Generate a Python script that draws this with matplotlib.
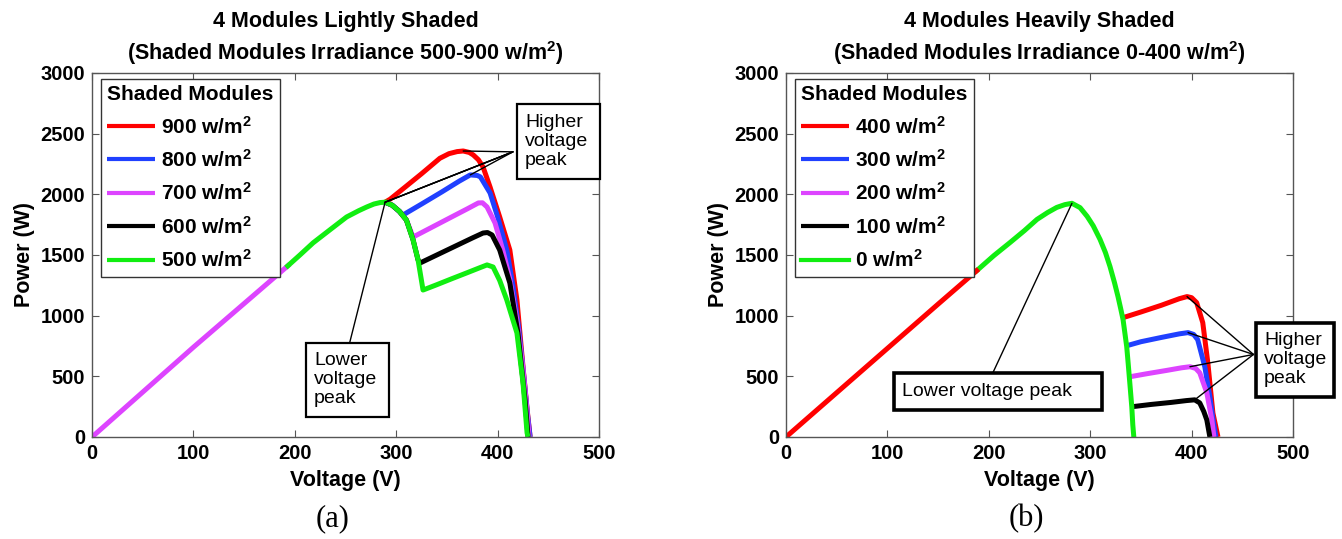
import matplotlib
matplotlib.use("Agg")

import numpy as np
import matplotlib.pyplot as plt
from matplotlib.patches import Rectangle

plt.rcParams["font.family"] = ["Liberation Sans", "DejaVu Sans"]
plt.rcParams["mathtext.default"] = "regular"

# ================= DATA =================
# (a) 4 modules lightly shaded -- common part of all five P-V curves
LS_RISE_V = [0, 50, 100, 150, 193]
LS_RISE_P = [0, 370, 740, 1100, 1410]
LS_KNEE_V = [193, 205, 218, 235, 251, 263, 271, 278, 284, 289]
LS_KNEE_P = [1410, 1500, 1600, 1710, 1813, 1865, 1896, 1920, 1932, 1935]

# (a) branches after the first (lower voltage) peak
LS_900_V = [289, 294, 310, 325, 343, 352, 360, 366, 372, 376, 381, 385.6, 392.5, 402, 412, 419, 425, 429, 432]
LS_900_P = [1935, 1960, 2068, 2170, 2297, 2335, 2352, 2357, 2345, 2324, 2285, 2225, 2060, 1813, 1541, 1129, 577, 230, 0]
LS_800_V = [289, 296, 303, 306.7, 325, 345, 362, 373, 380, 383, 392.5, 400, 409, 415, 421, 426, 429.5, 432]
LS_800_P = [1935, 1910, 1860, 1830, 1920, 2020, 2108, 2160, 2155, 2143, 2011, 1813, 1541, 1250, 880, 480, 180, 0]
LS_700_V = [289, 296, 303, 310, 316.6, 335, 355, 370, 381, 385, 389.5, 397.4, 405, 412, 419, 425, 428.5, 431]
LS_700_P = [1935, 1910, 1860, 1788, 1648, 1728, 1815, 1880, 1929, 1930, 1896, 1764, 1541, 1300, 960, 560, 250, 0]
LS_600_V = [289, 296, 303, 310, 316.6, 321.5, 323.5, 340, 360, 375, 385.6, 390, 394.5, 402, 412, 420, 427, 430]
LS_600_P = [1935, 1910, 1860, 1788, 1624, 1459, 1434, 1500, 1580, 1640, 1681, 1685, 1665, 1541, 1269, 857, 305, 0]
LS_500_V = [289, 296, 303, 310, 316.6, 321.5, 326.4, 340, 355, 370, 383, 389.5, 395.5, 402, 409, 419, 425, 429, 430]
LS_500_P = [1935, 1910, 1860, 1788, 1624, 1459, 1211, 1255, 1305, 1354, 1397, 1418, 1401, 1290, 1129, 857, 445, 33, 0]

LS_V = [LS_900_V, LS_800_V, LS_700_V, LS_600_V, LS_500_V]
LS_P = [LS_900_P, LS_800_P, LS_700_P, LS_600_P, LS_500_P]
LS_LABELS = ["900 w/m$^2$", "800 w/m$^2$", "700 w/m$^2$", "600 w/m$^2$", "500 w/m$^2$"]

# (b) 4 modules heavily shaded -- common part (0 w/m2 curve is the common one)
HS_RISE_V = [0, 50, 100, 150, 188]
HS_RISE_P = [0, 365, 730, 1095, 1370]
HS_0_V = [188, 205, 221, 235, 247.5, 258, 267, 275, 282, 290, 297, 303, 309.7, 315, 319.5,
          324, 327.4, 330, 332.4, 334, 336, 337.5, 339.5, 341, 342, 343]
HS_0_P = [1370, 1495, 1603, 1700, 1793, 1850, 1892, 1915, 1926, 1890, 1818, 1740, 1628, 1520, 1405,
          1270, 1157, 1060, 967, 868, 744, 600, 400, 248, 100, 0]

# (b) branches after the first (lower voltage) peak
HS_400_V = [333, 350, 370, 388, 395.5, 400, 405, 411, 416, 421, 426]
HS_400_P = [985, 1030, 1085, 1140, 1157, 1148, 1107, 942, 611, 198, 0]
HS_300_V = [336, 350, 370, 388, 396.5, 402, 406, 413, 418, 421, 424]
HS_300_P = [752, 785, 820, 850, 860, 845, 802, 579, 331, 150, 0]
HS_200_V = [339, 355, 375, 390, 398.4, 404, 408, 415, 420, 422]
HS_200_P = [496, 520, 548, 570, 579, 565, 529, 364, 140, 0]
HS_100_V = [342, 360, 380, 395, 403, 408, 412, 415, 418]
HS_100_P = [250, 268, 285, 300, 306, 281, 210, 140, 0]

HS_V = [HS_400_V, HS_300_V, HS_200_V, HS_100_V]
HS_P = [HS_400_P, HS_300_P, HS_200_P, HS_100_P]
HS_LABELS = ["400 w/m$^2$", "300 w/m$^2$", "200 w/m$^2$", "100 w/m$^2$", "0 w/m$^2$"]

COLORS = ["#ff0000", "#2040ff", "#dd44ff", "#000000", "#11ee11"]
# =========================================

LW = 3.6
TICK_FS = 14.5
LEG_FS = 15
BOX_FS = 14


def style_axes(ax, title):
    ax.set_xlim(0, 500)
    ax.set_ylim(0, 3000)
    ax.set_xticks(range(0, 501, 100))
    ax.set_yticks(range(0, 3001, 500))
    ax.tick_params(direction="in", top=True, right=True, length=5, width=0.8,
                   color="#555555", labelsize=TICK_FS, pad=5)
    for lab in ax.get_xticklabels() + ax.get_yticklabels():
        lab.set_fontweight("bold")
    for sp in ax.spines.values():
        sp.set_color("#555555")
        sp.set_linewidth(1.0)
    ax.set_xlabel("Voltage (V)", fontsize=15.5, fontweight="bold", labelpad=5)
    ax.set_ylabel("Power (W)", fontsize=15.5, fontweight="bold", labelpad=4)
    ax.set_title(title, fontsize=15.5, fontweight="bold", linespacing=1.35, pad=9)


def add_legend(ax):
    leg = ax.legend(loc="upper left", bbox_to_anchor=(0.018, 0.984), borderaxespad=0,
                    title="Shaded Modules", alignment="left",
                    prop={"weight": "bold", "size": LEG_FS},
                    title_fontproperties={"weight": "bold", "size": LEG_FS},
                    fancybox=False, framealpha=1, edgecolor="#333333",
                    handlelength=2.3, handletextpad=0.25, labelspacing=0.55,
                    borderpad=0.3)
    for h in leg.get_lines():
        h.set_linewidth(3.0)


def text_box(ax, x0, y0, x1, y1, text, lw):
    ax.add_patch(Rectangle((x0, y0), x1 - x0, y1 - y0, fc="white", ec="black",
                           lw=lw, clip_on=False, zorder=5))
    ax.text(x0 + 8, (y0 + y1) / 2, text, ha="left", va="center", fontsize=BOX_FS,
            linespacing=1.15, zorder=6, clip_on=False)


def leader(ax, start, end):
    ax.annotate("", xy=end, xytext=start,
                arrowprops=dict(arrowstyle="-", color="black", lw=1.0,
                                shrinkA=0, shrinkB=0), zorder=4)


def peak_of(v, p):
    i = int(np.argmax(p))
    return v[i], p[i]


def draw_lightly(ax):
    for v, p, c, lab in zip(LS_V, LS_P, COLORS, LS_LABELS):
        ax.plot(v, p, color=c, lw=LW, label=lab, solid_capstyle="butt")
    ax.plot(LS_RISE_V, LS_RISE_P, color=COLORS[2], lw=LW)
    ax.plot(LS_KNEE_V, LS_KNEE_P, color=COLORS[4], lw=LW)

    style_axes(ax, "4 Modules Lightly Shaded\n(Shaded Modules Irradiance 500-900 w/m$^2$)")
    add_legend(ax)

    text_box(ax, 419, 2126, 501, 2744, "Higher\nvoltage\npeak", 1.6)
    for v, p in zip(LS_V, LS_P):
        leader(ax, (415, 2350), peak_of(v, p))

    text_box(ax, 211, 165, 293, 775, "Lower\nvoltage\npeak", 1.6)
    leader(ax, (254, 775), peak_of(LS_KNEE_V, LS_KNEE_P))


def draw_heavily(ax):
    for v, p, c, lab in zip(HS_V, HS_P, COLORS, HS_LABELS):
        ax.plot(v, p, color=c, lw=LW, label=lab, solid_capstyle="butt")
    ax.plot(HS_0_V, HS_0_P, color=COLORS[4], lw=LW, label=HS_LABELS[4])
    ax.plot(HS_RISE_V, HS_RISE_P, color=COLORS[0], lw=LW)

    style_axes(ax, "4 Modules Heavily Shaded\n(Shaded Modules Irradiance 0-400 w/m$^2$)")
    add_legend(ax)

    text_box(ax, 463.5, 331, 540, 942, "Higher\nvoltage\npeak", 2.6)
    for v, p in zip(HS_V, HS_P):
        leader(ax, (461, 680), peak_of(v, p))

    text_box(ax, 106.5, 223, 311.6, 529, "Lower voltage peak", 2.6)
    leader(ax, (204, 529), peak_of(HS_0_V, HS_0_P))


def main():
    fig = plt.figure(figsize=(13.42, 5.39), dpi=100)
    ax_a = fig.add_axes([0.0686, 0.1893, 0.3778, 0.6753])
    ax_b = fig.add_axes([0.5857, 0.1893, 0.3778, 0.6753])

    draw_lightly(ax_a)
    draw_heavily(ax_b)

    fig.text(0.248, 0.037, "(a)", ha="center", va="center", fontsize=22, family="Liberation Serif")
    fig.text(0.7645, 0.037, "(b)", ha="center", va="center", fontsize=22, family="Liberation Serif")

    fig.savefig("out.png", dpi=100)
    plt.close(fig)


if __name__ == "__main__":
    main()
